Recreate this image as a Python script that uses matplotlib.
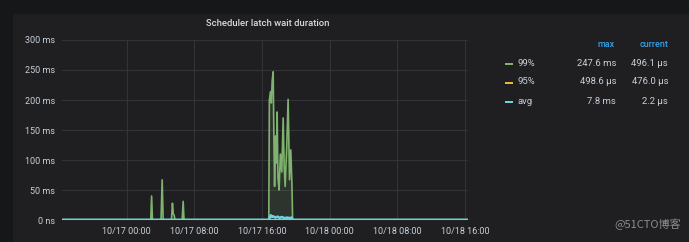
import matplotlib
matplotlib.use('Agg')
import matplotlib.pyplot as plt
import matplotlib.dates as mdates
from matplotlib.patches import Rectangle
from datetime import datetime

plt.rcParams['font.family'] = ['Roboto', 'DejaVu Sans']

# --- data (ms) ---
p99_times = ['10/16 16:20', '10/17 02:50', '10/17 02:56', '10/17 03:02', '10/17 04:03', '10/17 04:11',
             '10/17 04:18', '10/17 05:17', '10/17 05:24', '10/17 05:30', '10/17 05:36', '10/17 05:42',
             '10/17 06:33', '10/17 06:40', '10/17 06:46', '10/17 16:48', '10/17 16:52', '10/17 17:00',
             '10/17 17:06', '10/17 17:12', '10/17 17:19', '10/17 17:25', '10/17 17:29', '10/17 17:36',
             '10/17 17:42', '10/17 17:47', '10/17 17:53', '10/17 18:01', '10/17 18:10', '10/17 18:20',
             '10/17 18:30', '10/17 18:37', '10/17 18:44', '10/17 18:55', '10/17 19:05', '10/17 19:15',
             '10/17 19:24', '10/17 19:32', '10/17 19:37', '10/18 16:20']
p99_vals = [0.5, 0.5, 40, 0.5, 0.5, 67,
            0.5, 0.5, 28, 10, 8, 0.5,
            0.5, 31, 0.5, 0.5, 200, 214,
            195, 232, 247, 120, 56, 140,
            95, 180, 70, 50, 110, 80,
            170, 90, 56, 120, 201, 67,
            117, 60, 0.5, 0.5]

p95_times = ['10/16 16:20', '10/17 16:50', '10/17 17:20', '10/17 18:30', '10/17 19:37', '10/18 16:20']
p95_vals = [0.45, 0.45, 0.5, 0.48, 0.45, 0.45]

avg_times = ['10/16 16:20', '10/17 16:48', '10/17 16:55', '10/17 17:02', '10/17 17:10', '10/17 17:20',
             '10/17 17:35', '10/17 17:50', '10/17 18:05', '10/17 18:20', '10/17 18:40', '10/17 19:00',
             '10/17 19:15', '10/17 19:30', '10/17 19:37', '10/18 16:20']
avg_vals = [0.2, 0.2, 4, 7.8, 5, 6,
            4, 5.5, 3.5, 5, 3, 4,
            3, 4, 0.2, 0.2]

series_names = ['99%', '95%', 'avg']
series_max = ['247.6 ms', '498.6 µs', '7.8 ms']
series_current = ['496.1 µs', '476.0 µs', '2.2 µs']
series_colors = ['#7eb26d', '#eab839', '#6ed0e0']

y_ticks = [0, 50, 100, 150, 200, 250, 300]
y_labels = ['0 ns', '50 ms', '100 ms', '150 ms', '200 ms', '250 ms', '300 ms']


def to_dt(labels):
    return [datetime.strptime('2019/' + s, '%Y/%m/%d %H:%M') for s in labels]


outer_bg = '#161719'
panel_bg = '#1f1f22'
text_col = '#c7d0d9'
grid_col = '#323337'

W, H = 689, 242
fig = plt.figure(figsize=(W / 100, H / 100), dpi=100, facecolor=outer_bg)
# panel rectangle
fig.patches.append(Rectangle((13 / W, 0), 1 - 13 / W, 1 - 14 / H, transform=fig.transFigure,
                             facecolor=panel_bg, edgecolor='none', zorder=-5))

ax = fig.add_axes([62 / W, (H - 220) / H, (468 - 62) / W, 180 / H])
ax.set_facecolor(panel_bg)

t99 = to_dt(p99_times)
ax.fill_between(t99, p99_vals, 0, color=series_colors[0], alpha=0.15, linewidth=0)
ax.plot(t99, p99_vals, color=series_colors[0], linewidth=1.2)
ax.plot(to_dt(p95_times), p95_vals, color=series_colors[1], linewidth=1.0)
ax.plot(to_dt(avg_times), avg_vals, color=series_colors[2], linewidth=1.9)

ax.set_xlim(datetime(2019, 10, 16, 16, 20), datetime(2019, 10, 18, 16, 22))
ax.set_ylim(0, 300)
ax.set_yticks(y_ticks)
ax.set_yticklabels(y_labels)
ax.xaxis.set_major_locator(mdates.HourLocator(byhour=[0, 8, 16]))
ax.xaxis.set_major_formatter(mdates.DateFormatter('%m/%d %H:%M'))
ax.tick_params(axis='both', length=0, colors=text_col, labelsize=6.5)
ax.tick_params(axis='y', pad=5)
ax.tick_params(axis='x', pad=5)
ax.grid(True, color=grid_col, linewidth=0.8)
ax.set_axisbelow(True)
for sp in ax.spines.values():
    sp.set_visible(False)

fig.text(268 / W, 1 - 24 / H, 'Scheduler latch wait duration', ha='center', va='center',
         color='#d8d9da', fontsize=6.8, fontweight='medium')

# legend table
fig.text(615 / W, 1 - 45 / H, 'max', ha='right', va='center', color='#33a2e5', fontsize=6.5,
         fontweight='medium')
fig.text(668 / W, 1 - 45 / H, 'current', ha='right', va='center', color='#33a2e5', fontsize=6.5,
         fontweight='medium')
row_y = [63, 82, 101]
for name, mx, cur, col, y in zip(series_names, series_max, series_current, series_colors, row_y):
    fig.patches.append(Rectangle((505 / W, 1 - (y + 2) / H), 8 / W, 2.2 / H, transform=fig.transFigure,
                                 facecolor=col, edgecolor='none'))
    fig.text(518 / W, 1 - y / H, name, ha='left', va='center', color=text_col, fontsize=6.8)
    fig.text(616 / W, 1 - y / H, mx, ha='right', va='center', color=text_col, fontsize=6.8)
    fig.text(668 / W, 1 - y / H, cur, ha='right', va='center', color=text_col, fontsize=6.8)

fig.text(681 / W, 1 - 224 / H, '@51CTO博客', ha='right', va='center', color='#8e8e8e', fontsize=8,
         family=['Noto Sans CJK SC', 'DejaVu Sans'])

fig.savefig('out.png', dpi=100, facecolor=outer_bg)
